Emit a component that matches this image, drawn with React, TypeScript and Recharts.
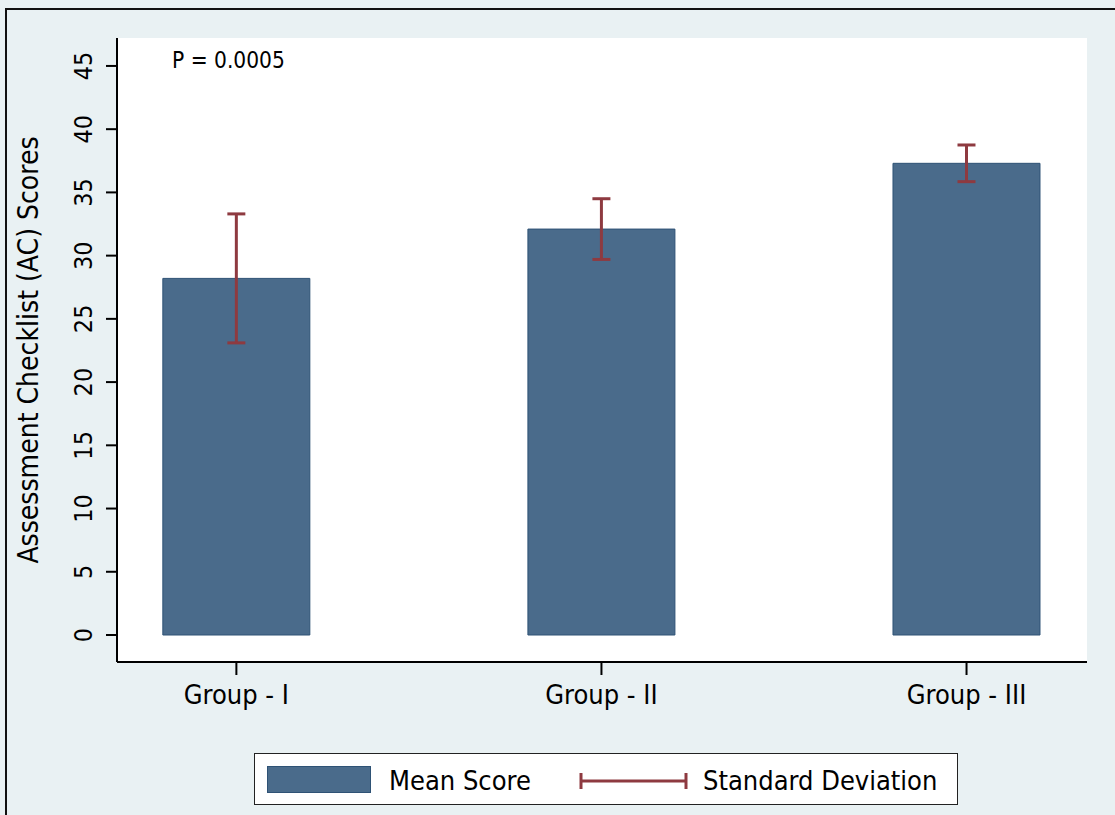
import React from 'react';
import { BarChart, Bar, XAxis, YAxis, CartesianGrid, ErrorBar } from 'recharts';

// values
const groups = ['Group - I', 'Group - II', 'Group - III'];
const positions = [1, 2, 3];
const meanScores = [28.2, 32.1, 37.3];
const stdDevs = [5.1, 2.4, 1.45];
const yTicks = [0, 5, 10, 15, 20, 25, 30, 35, 40, 45];

const BAR = '#4a6b8b';
const BAR_EDGE = '#2e5275';
const ERR = '#8e3a40';
const FONT = '"DejaVu Sans Condensed", "DejaVu Sans", sans-serif';

const data = positions.map((x, i) => ({
  x,
  name: groups[i],
  mean: meanScores[i],
  sd: stdDevs[i],
}));

const YTick = ({ x, y, payload }: any) => {
  const tx = x - 20;
  return (
    <text
      x={tx}
      y={y}
      transform={`rotate(-90 ${tx} ${y})`}
      textAnchor="middle"
      dominantBaseline="central"
      fontFamily={FONT}
      fontSize={25}
      fill="#000"
    >
      {payload.value}
    </text>
  );
};

const XTick = ({ x, y, payload }: any) => {
  const idx = positions.indexOf(payload.value);
  return (
    <text x={x} y={y + 27} textAnchor="middle" fontFamily={FONT} fontSize={27} fill="#000">
      {idx >= 0 ? groups[idx] : ''}
    </text>
  );
};

export default function App() {
  return (
    <div
      style={{
        position: 'absolute',
        left: 0,
        top: 0,
        width: 1115,
        height: 815,
        background: '#e9f1f3',
        overflow: 'hidden',
      }}
    >
      {/* outer frame */}
      <div
        style={{
          position: 'absolute',
          left: 5,
          top: 8,
          width: 1200,
          height: 900,
          border: '2px solid #111',
        }}
      />
      <div style={{ position: 'absolute', left: 0, top: 0 }}>
        <BarChart
          width={1115}
          height={815}
          data={data}
          margin={{ top: 38, right: 28, bottom: 113, left: 0 }}
        >
          <CartesianGrid fill="#ffffff" stroke="none" horizontal={false} vertical={false} />
          <XAxis
            dataKey="x"
            type="number"
            domain={[0.673, 3.33]}
            allowDataOverflow
            ticks={positions}
            height={40}
            tickSize={13}
            stroke="#000"
            axisLine={{ stroke: '#000', strokeWidth: 2 }}
            tickLine={{ stroke: '#000', strokeWidth: 2 }}
            tick={<XTick />}
          />
          <YAxis
            type="number"
            domain={[-2.135, 47.21]}
            allowDataOverflow
            ticks={yTicks}
            width={117}
            tickSize={11}
            stroke="#000"
            axisLine={{ stroke: '#000', strokeWidth: 2 }}
            tickLine={{ stroke: '#000', strokeWidth: 2 }}
            tick={<YTick />}
            label={{
              value: 'Assessment Checklist (AC) Scores',
              angle: -90,
              position: 'insideLeft',
              offset: 0,
              dx: 28,
              dy: 0,
              style: { textAnchor: 'middle', fontFamily: FONT, fontSize: 28, fill: '#000' },
            }}
          />
          <Bar
            dataKey="mean"
            fill={BAR}
            stroke={BAR_EDGE}
            strokeWidth={1}
            barSize={147}
            isAnimationActive={false}
          >
            <ErrorBar dataKey="sd" width={9} stroke={ERR} strokeWidth={3} direction="y" />
          </Bar>
        </BarChart>
      </div>
      {/* annotation */}
      <div
        style={{
          position: 'absolute',
          left: 172,
          top: 46,
          fontFamily: FONT,
          fontSize: 22.5,
          color: '#000',
          lineHeight: '28px',
        }}
      >
        P = 0.0005
      </div>
      {/* legend */}
      <div
        style={{
          position: 'absolute',
          left: 254,
          top: 753,
          width: 702,
          height: 50,
          background: '#fff',
          border: '1.5px solid #222',
          fontFamily: FONT,
          fontSize: 27,
          color: '#000',
        }}
      >
        <div
          style={{
            position: 'absolute',
            left: 12,
            top: 12,
            width: 104,
            height: 27,
            background: BAR,
            border: `1px solid ${BAR_EDGE}`,
            boxSizing: 'border-box',
          }}
        />
        <div style={{ position: 'absolute', left: 134, top: 10, lineHeight: '34px' }}>Mean Score</div>
        <svg style={{ position: 'absolute', left: 324, top: 17 }} width={110} height={20}>
          <line x1={2} y1={10} x2={107} y2={10} stroke={ERR} strokeWidth={3} />
          <line x1={2} y1={2} x2={2} y2={18} stroke={ERR} strokeWidth={3} />
          <line x1={107} y1={2} x2={107} y2={18} stroke={ERR} strokeWidth={3} />
        </svg>
        <div style={{ position: 'absolute', left: 448, top: 10, lineHeight: '34px' }}>
          Standard Deviation
        </div>
      </div>
    </div>
  );
}
